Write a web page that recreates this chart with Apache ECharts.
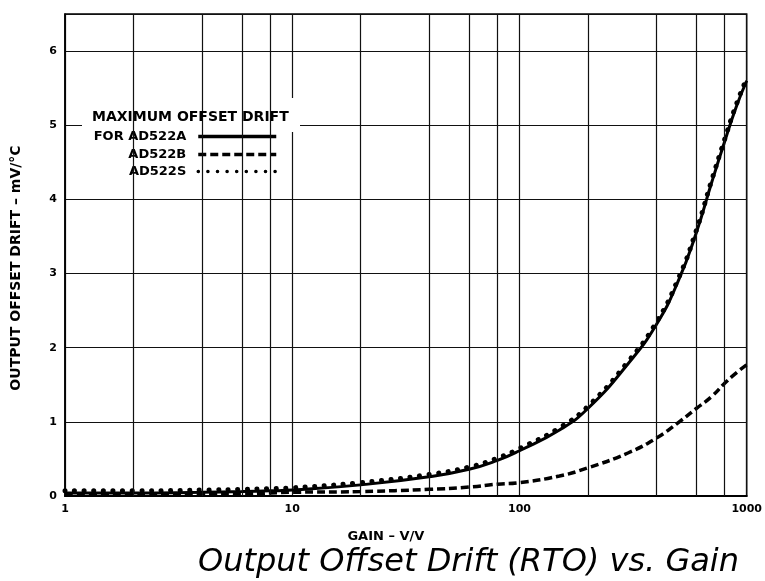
<!DOCTYPE html>
<html>
<head>
<meta charset="utf-8">
<script src="https://cdn.jsdelivr.net/npm/echarts@6/dist/echarts.min.js"></script>
<style>
  html, body { margin: 0; padding: 0; background: #fff; }
  #chart { width: 765px; height: 581px; }
</style>
</head>
<body>
<div id="chart"></div>
<script>
// gain points (V/V) and drift (mV/°C)
const gains  = [1, 2, 4, 6, 8, 10, 20, 40, 60, 80, 100, 150, 200, 300, 400, 500, 600, 700, 800, 900, 1000];
const driftA = [0.04, 0.04, 0.05, 0.06, 0.07, 0.08, 0.15, 0.26, 0.36, 0.48, 0.61, 0.89, 1.18, 1.78, 2.31, 2.9, 3.55, 4.22, 4.78, 5.25, 5.6];
const driftB = [0.02, 0.02, 0.03, 0.03, 0.04, 0.05, 0.06, 0.09, 0.12, 0.16, 0.18, 0.27, 0.38, 0.58, 0.78, 0.99, 1.18, 1.34, 1.52, 1.66, 1.77];
const driftS = [0.07, 0.07, 0.08, 0.09, 0.1, 0.11, 0.18, 0.29, 0.39, 0.51, 0.64, 0.92, 1.21, 1.81, 2.34, 2.93, 3.58, 4.25, 4.81, 5.28, 5.63];
// extra vertical grid lines of the log paper
const minorGains = [2, 4, 6, 8, 20, 40, 60, 80, 200, 400, 600, 800];
const yTicks = [0, 1, 2, 3, 4, 5, 6];

const font = 'DejaVu Sans';
const pairs = arr => gains.map((g, i) => [g, arr[i]]);

const chart = echarts.init(document.getElementById('chart'));

const legendBase = {
  orient: 'vertical',
  right: 487,
  padding: 0,
  itemWidth: 78,
  itemHeight: 8,
  align: 'right',
  itemStyle: { color: 'rgba(0,0,0,0)', borderWidth: 0, opacity: 0 },
  textStyle: { fontFamily: font, fontWeight: 'bold', fontSize: 13, color: '#000', padding: [0, 7, 0, 0] }
};

chart.setOption({
  animation: false,
  backgroundColor: '#fff',
  title: [
    {
      text: 'Output Offset Drift (RTO) vs. Gain',
      left: 193, top: 542,
      textStyle: { fontFamily: font, fontStyle: 'italic', fontWeight: 'normal', fontSize: 32, color: '#000' }
    },
    {
      text: 'MAXIMUM OFFSET DRIFT',
      left: 92, top: 110, padding: 0, z: 5,
      textStyle: { fontFamily: font, fontWeight: 'bold', fontSize: 14, color: '#000' }
    }
  ],
  legend: [
    Object.assign({}, legendBase, { top: 130, data: ['FOR AD522A'], lineStyle: { width: 3.5 } }),
    Object.assign({}, legendBase, { top: 148, data: ['AD522B'], lineStyle: { width: 3.5 } }),
    Object.assign({}, legendBase, { top: 165, data: ['AD522S'], lineStyle: { width: 3.5 } })
  ],
  graphic: [
    { type: 'rect', z: 1, shape: { x: 82, y: 98, width: 218, height: 34 }, style: { fill: '#fff' } },
    { type: 'rect', z: 1, shape: { x: 82, y: 98, width: 203, height: 86 }, style: { fill: '#fff' } }
  ],
  grid: {
    left: 65, right: 17, top: 14, bottom: 85,
    show: true, borderColor: '#000', borderWidth: 1.5, backgroundColor: 'transparent'
  },
  xAxis: {
    type: 'log',
    logBase: 10,
    min: 1, max: 1000,
    name: 'GAIN – V/V',
    nameLocation: 'middle',
    nameGap: 34,
    nameTextStyle: { fontFamily: font, fontWeight: 'bold', fontSize: 13, color: '#000', padding: [0, 40, 0, 0] },
    axisLine: { lineStyle: { color: '#000', width: 2 } },
    axisTick: { show: false },
    axisLabel: {
      fontFamily: font, fontWeight: 'bold', fontSize: 11, color: '#000', margin: 8,
      formatter: v => String(Math.round(v))
    },
    splitLine: { show: true, lineStyle: { color: '#111', width: 1.2 } },
    minorTick: { show: false },
    minorSplitLine: { show: false }
  },
  yAxis: {
    type: 'value',
    min: 0, max: 6.5, interval: 1,
    name: 'OUTPUT OFFSET DRIFT – mV/°C',
    nameLocation: 'middle',
    nameGap: 42,
    nameTextStyle: { fontFamily: font, fontWeight: 'bold', fontSize: 14, color: '#000', padding: [0, 26, 0, 0] },
    axisLine: { show: true, lineStyle: { color: '#000', width: 1.5 } },
    axisTick: { show: false },
    axisLabel: {
      fontFamily: font, fontWeight: 'bold', fontSize: 11, color: '#000', margin: 8,
      formatter: v => (yTicks.indexOf(v) >= 0 ? String(v) : '')
    },
    splitLine: { show: true, lineStyle: { color: '#111', width: 1.2 } }
  },
  series: [
    {
      name: 'grid',
      type: 'line',
      z: 0,
      data: [],
      silent: true,
      markLine: {
        silent: true,
        symbol: 'none',
        label: { show: false },
        lineStyle: { color: '#111', width: 1.2, type: 'solid' },
        data: minorGains.map(g => ({ xAxis: g }))
      }
    },
    {
      name: 'FOR AD522A',
      type: 'line',
      z: 3,
      smooth: 0.5,
      symbol: 'none',
      data: pairs(driftA),
      lineStyle: { color: '#000', width: 3 },
      itemStyle: { color: '#000' }
    },
    {
      name: 'AD522B',
      type: 'line',
      z: 3,
      smooth: 0.5,
      symbol: 'none',
      data: pairs(driftB),
      lineStyle: { color: '#000', width: 3.5, type: [8, 4] },
      itemStyle: { color: '#000' }
    },
    {
      name: 'AD522S',
      type: 'line',
      z: 4,
      smooth: 0.5,
      symbol: 'none',
      data: pairs(driftS),
      lineStyle: { color: '#000', width: 5, type: [0.1, 9.5], cap: 'round' },
      itemStyle: { color: '#000' }
    }
  ]
});
</script>
</body>
</html>
